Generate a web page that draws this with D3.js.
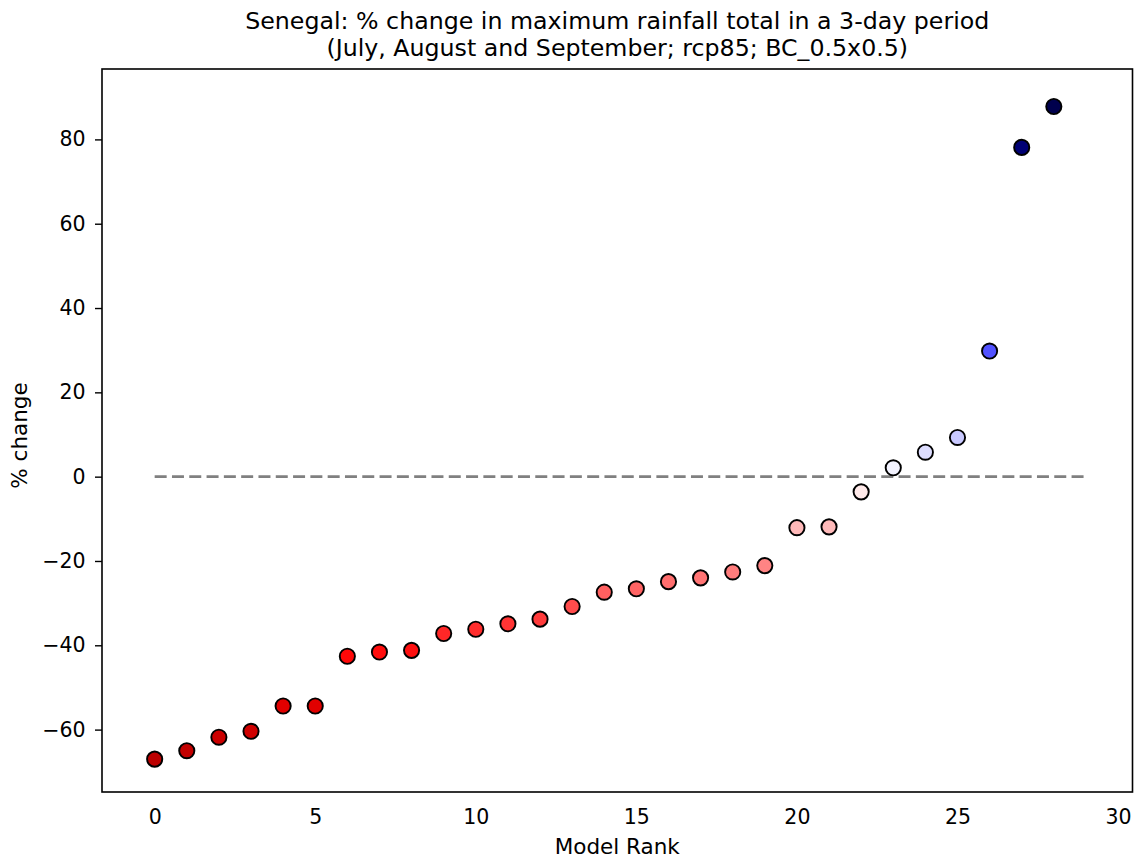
<!DOCTYPE html>
<html>
<head>
<meta charset="utf-8">
<script src="https://cdn.jsdelivr.net/npm/d3@7"></script>
<style>
  html, body { margin: 0; padding: 0; background: #fff; }
  svg { display: block; font-family: "DejaVu Sans", sans-serif; }
</style>
</head>
<body>
<div id="chart"></div>
<script>
// ---- data ----
const titleLines = [
  "Senegal: % change in maximum rainfall total in a 3-day period",
  "(July, August and September; rcp85; BC_0.5x0.5)"
];
const modelRank = d3.range(29);
const pctChange = [
  -67.0, -65.0, -61.8, -60.4, -54.4, -54.4, -42.6, -41.6, -41.2, -37.2,
  -36.2, -34.9, -33.8, -30.8, -27.4, -26.6, -24.9, -24.0, -22.6, -21.1,
  -12.1, -11.9, -3.6, 2.1, 5.8, 9.3, 29.8, 78.1, 87.8
];
const xTicks = [0, 5, 10, 15, 20, 25, 30];
const yTicks = [-60, -40, -20, 0, 20, 40, 60, 80];
const xLabel = "Model Rank";
const yLabel = "% change";

// ---- layout ----
const W = 1135, H = 859;
const m = { left: 102, right: 1132.5, top: 69, bottom: 792 };
const tickFont = 20.5, labelFont = 21.5, titleFont = 23.7;

const svg = d3.select("#chart").append("svg")
  .attr("width", W).attr("height", H);

const x = d3.scaleLinear().domain([-1.64, 30.45]).range([m.left, m.right]);
const y = d3.scaleLinear().domain([-74.8, 96.7]).range([m.bottom, m.top]);

// seismic_r colormap, symmetric normalisation
const vmax = d3.max(pctChange, d => Math.abs(d));
const seismicR = d3.scaleLinear()
  .domain([0, 0.25, 0.5, 0.75, 1])
  .range(["rgb(128,0,0)", "rgb(255,0,0)", "rgb(255,255,255)", "rgb(0,0,255)", "rgb(0,0,77)"])
  .interpolate(d3.interpolateRgb);
const colorOf = v => seismicR((v + vmax) / (2 * vmax));

// zero reference line
svg.append("line")
  .attr("x1", x(0)).attr("x2", x(modelRank.length))
  .attr("y1", y(0)).attr("y2", y(0))
  .attr("stroke", "#808080").attr("stroke-width", 2.8)
  .attr("stroke-dasharray", "12,5.3");

// points
svg.append("g").selectAll("circle")
  .data(modelRank)
  .join("circle")
  .attr("cx", i => x(i))
  .attr("cy", i => y(pctChange[i]))
  .attr("r", 7.6)
  .attr("fill", i => colorOf(pctChange[i]))
  .attr("stroke", "#000").attr("stroke-width", 1.9);

// frame
svg.append("rect")
  .attr("x", m.left).attr("y", m.top)
  .attr("width", m.right - m.left).attr("height", m.bottom - m.top)
  .attr("fill", "none").attr("stroke", "#000").attr("stroke-width", 1.6);

// y axis
const yAxis = d3.axisLeft(y).tickValues(yTicks).tickSize(7).tickPadding(9.5)
  .tickFormat(d => d < 0 ? "\u2212" + Math.abs(d) : String(d));
const gy = svg.append("g").attr("transform", `translate(${m.left},0)`).call(yAxis);
gy.select(".domain").remove();
gy.selectAll(".tick line").attr("stroke", "#000").attr("stroke-width", 1.4);
gy.selectAll(".tick text").attr("font-size", tickFont).attr("fill", "#000")
  .attr("font-family", "DejaVu Sans");

// x axis (labels only)
const xAxis = d3.axisBottom(x).tickValues(xTicks).tickSize(0).tickPadding(17.5);
const gx = svg.append("g").attr("transform", `translate(0,${m.bottom})`).call(xAxis);
gx.select(".domain").remove();
gx.selectAll(".tick text").attr("font-size", tickFont).attr("fill", "#000")
  .attr("font-family", "DejaVu Sans");

// axis labels
svg.append("text")
  .attr("x", (m.left + m.right) / 2).attr("y", 854)
  .attr("text-anchor", "middle").attr("font-size", labelFont)
  .text(xLabel);
svg.append("text")
  .attr("transform", `translate(27,${(m.top + m.bottom) / 2 + 5}) rotate(-90)`)
  .attr("text-anchor", "middle").attr("font-size", labelFont)
  .text(yLabel);

// title
svg.append("g").selectAll("text")
  .data(titleLines)
  .join("text")
  .attr("x", (m.left + m.right) / 2)
  .attr("y", (d, i) => 29.3 + i * 26.8)
  .attr("text-anchor", "middle").attr("font-size", titleFont)
  .text(d => d);
</script>
</body>
</html>
